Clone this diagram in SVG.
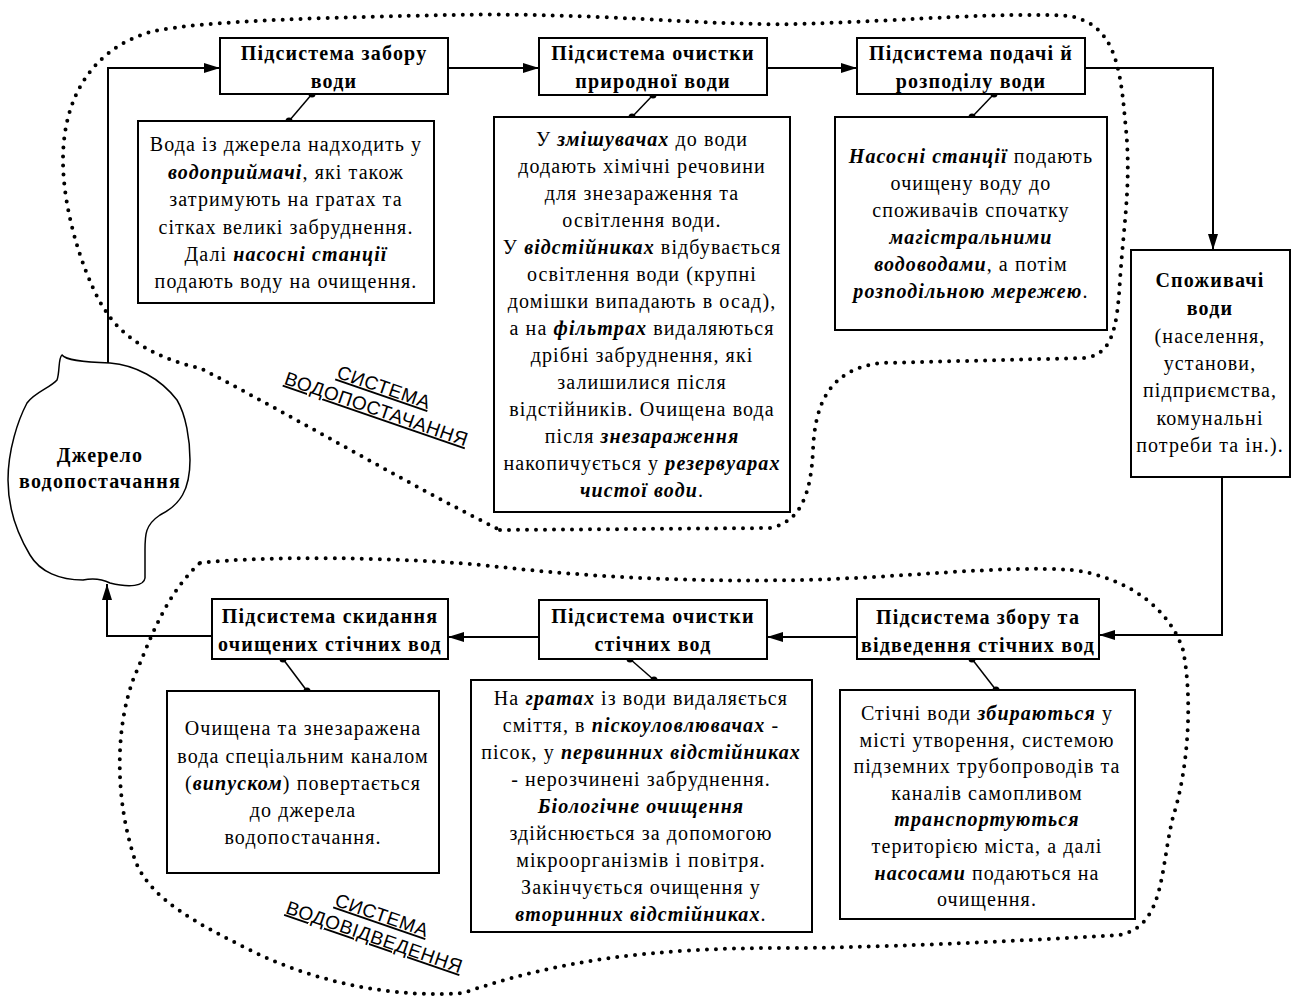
<svg xmlns="http://www.w3.org/2000/svg" width="1300" height="1006" viewBox="0 0 1300 1006">
<style>
.box{fill:#fff;stroke:#000;stroke-width:2}
.t{font-family:"Liberation Serif","Times New Roman",serif;font-size:20px;letter-spacing:1.1px;text-anchor:middle;fill:#000}
.h{font-weight:bold;letter-spacing:1.2px}
.bi{font-weight:bold;font-style:italic}
.b{font-weight:bold}
.ln{stroke:#000;stroke-width:2;fill:none}
.lk{stroke:#000;stroke-width:1.5;fill:none}
.dot{stroke:#000;stroke-width:4;stroke-linecap:round;stroke-dasharray:0 9;fill:none}
.lbl{font-family:"Liberation Sans",Arial,sans-serif;font-size:19px;letter-spacing:0.6px;text-decoration:underline;text-anchor:middle;fill:#000}
</style>
<defs>
<marker id="ah" viewBox="0 0 16 10" refX="16" refY="5" markerWidth="16" markerHeight="10" markerUnits="userSpaceOnUse" orient="auto"><path d="M0,0 L16,5 L0,10 z" fill="#000"/></marker>
</defs>
<rect width="1300" height="1006" fill="#fff"/>

<g id="loops">
<path class="dot" d="M 500 530 L 770 528 C 800 522 811 495 813 450 C 815 405 828 370 880 363 L 1085 358 C 1112 354 1117 330 1120 280 C 1124 220 1132 180 1125 120 C 1120 60 1112 25 1070 16 C 1000 12 920 20 800 24 C 700 26 600 12 450 15 C 350 17 200 20 150 32 C 90 50 63 100 63 160 C 63 220 90 290 107 313 C 125 340 160 360 200 368 C 300 420 400 480 500 530 Z"/>
<path class="dot" d="M 200 563 C 260 556 400 556 500 567 C 600 578 700 582 800 580 C 900 578 1000 565 1073 570 C 1130 578 1170 610 1183 650 C 1193 700 1188 770 1173 817 C 1160 870 1165 925 1120 935 C 1000 942 870 948 783 948 C 650 948 560 960 463 993 C 400 998 320 985 250 950 C 200 925 150 900 135 860 C 115 800 115 730 133 680 C 150 640 165 595 200 563 Z"/>
<g transform="translate(378,400) rotate(19)">
<text class="lbl" x="1.5" y="-7.5">СИСТЕМА</text>
<text class="lbl" x="1.5" y="15.5">ВОДОПОСТАЧАННЯ</text>
</g>
<g transform="translate(376,928) rotate(19)">
<text class="lbl" x="1.5" y="-7.5">СИСТЕМА</text>
<text class="lbl" x="1.5" y="15.5">ВОДОВІДВЕДЕННЯ</text>
</g>
</g>

<g id="connectors">
<path class="ln" d="M 108 363 V 68 H 220" marker-end="url(#ah)"/>
<path class="ln" d="M 448 68 H 539" marker-end="url(#ah)"/>
<path class="ln" d="M 767 68 H 857" marker-end="url(#ah)"/>
<path class="ln" d="M 1085 68 H 1213 V 250" marker-end="url(#ah)"/>
<path class="ln" d="M 1222 477 V 635 H 1099" marker-end="url(#ah)"/>
<path class="ln" d="M 857 637 H 767" marker-end="url(#ah)"/>
<path class="ln" d="M 539 637 H 448" marker-end="url(#ah)"/>
<path class="ln" d="M 212 636 H 107 V 584" marker-end="url(#ah)"/>
<g>
<line class="lk" x1="312" y1="94" x2="289" y2="121"/><circle cx="312" cy="94" r="3.5"/><circle cx="289" cy="121" r="3.5"/>
<line class="lk" x1="653" y1="95" x2="632" y2="117"/><circle cx="653" cy="95" r="3.5"/><circle cx="632" cy="117" r="3.5"/>
<line class="lk" x1="994" y1="94" x2="972" y2="117"/><circle cx="994" cy="94" r="3.5"/><circle cx="972" cy="117" r="3.5"/>
<line class="lk" x1="283" y1="659" x2="307" y2="691"/><circle cx="283" cy="659" r="3.5"/><circle cx="307" cy="691" r="3.5"/>
<line class="lk" x1="630" y1="659" x2="654" y2="680"/><circle cx="630" cy="659" r="3.5"/><circle cx="654" cy="680" r="3.5"/>
<line class="lk" x1="972" y1="659" x2="996" y2="690"/><circle cx="972" cy="659" r="3.5"/><circle cx="996" cy="690" r="3.5"/>
</g>
</g>

<g id="source">
<path class="lk" fill="#fff" d="M 62 355 C 66 360 80 362 110 363 C 135 365 160 378 177 400 C 186 415 190 440 190 460 C 190 490 180 505 160 515 C 145 525 145 535 145 550 L 145 578 C 144 586 130 588 110 583 C 100 578 92 578 83 580 C 60 580 40 572 30 555 C 18 535 8 510 8 480 C 8 450 18 420 27 403 C 35 392 50 388 57 380 C 60 372 58 358 62 355 Z"/>
<text class="t h" x="100" y="462">Джерело</text>
<text class="t h" x="100" y="488">водопостачання</text>
</g>

<g id="n1">
<rect class="box" x="220" y="38" width="228" height="56"/>
<text class="t h" x="334" y="60">Підсистема забору</text>
<text class="t h" x="334" y="88">води</text>
</g>
<g id="n2">
<rect class="box" x="539" y="38" width="228" height="57"/>
<text class="t h" x="653" y="60">Підсистема очистки</text>
<text class="t h" x="653" y="88">природної води</text>
</g>
<g id="n3">
<rect class="box" x="857" y="38" width="228" height="56"/>
<text class="t h" x="971" y="60">Підсистема подачі й</text>
<text class="t h" x="971" y="88">розподілу води</text>
</g>

<g id="d1">
<rect class="box" x="138" y="121" width="296" height="182"/>
<text class="t" x="286" y="151">Вода із джерела надходить у</text>
<text class="t" x="286" y="179"><tspan class="bi">водоприймачі</tspan>, які також</text>
<text class="t" x="286" y="206">затримують на гратах та</text>
<text class="t" x="286" y="234">сітках великі забруднення.</text>
<text class="t" x="286" y="261">Далі <tspan class="bi">насосні станції</tspan></text>
<text class="t" x="286" y="288">подають воду на очищення.</text>
</g>

<g id="d2">
<rect class="box" x="494" y="117" width="296" height="395"/>
<text class="t" x="642" y="146">У <tspan class="bi">змішувачах</tspan> до води</text>
<text class="t" x="642" y="173">додають хімічні речовини</text>
<text class="t" x="642" y="200">для знезараження та</text>
<text class="t" x="642" y="227">освітлення води.</text>
<text class="t" x="642" y="254">У <tspan class="bi">відстійниках</tspan> відбувається</text>
<text class="t" x="642" y="281">освітлення води (крупні</text>
<text class="t" x="642" y="308">домішки випадають в осад),</text>
<text class="t" x="642" y="335">а на <tspan class="bi">фільтрах</tspan> видаляються</text>
<text class="t" x="642" y="362">дрібні забруднення, які</text>
<text class="t" x="642" y="389">залишилися після</text>
<text class="t" x="642" y="416">відстійників. Очищена вода</text>
<text class="t" x="642" y="443">після <tspan class="bi">знезараження</tspan></text>
<text class="t" x="642" y="470">накопичується у <tspan class="bi">резервуарах</tspan></text>
<text class="t" x="642" y="497"><tspan class="bi">чистої води</tspan>.</text>
</g>

<g id="d3">
<rect class="box" x="835" y="117" width="272" height="213"/>
<text class="t" x="971" y="163"><tspan class="bi">Насосні станції</tspan> подають</text>
<text class="t" x="971" y="190">очищену воду до</text>
<text class="t" x="971" y="217">споживачів спочатку</text>
<text class="t" x="971" y="244"><tspan class="bi">магістральними</tspan></text>
<text class="t" x="971" y="271"><tspan class="bi">водоводами</tspan>, а потім</text>
<text class="t" x="971" y="298"><tspan class="bi">розподільною мережею</tspan>.</text>
</g>

<g id="consumers">
<rect class="box" x="1131" y="250" width="159" height="227"/>
<text class="t h" x="1210" y="287">Споживачі</text>
<text class="t h" x="1210" y="315">води</text>
<text class="t" x="1210" y="343">(населення,</text>
<text class="t" x="1210" y="370">установи,</text>
<text class="t" x="1210" y="397">підприємства,</text>
<text class="t" x="1210" y="425">комунальні</text>
<text class="t" x="1210" y="452">потреби та ін.).</text>
</g>

<g id="n4">
<rect class="box" x="857" y="599" width="242" height="60"/>
<text class="t h" x="978" y="624">Підсистема збору та</text>
<text class="t h" x="978" y="652">відведення стічних вод</text>
</g>
<g id="n5">
<rect class="box" x="539" y="600" width="228" height="59"/>
<text class="t h" x="653" y="623">Підсистема очистки</text>
<text class="t h" x="653" y="651">стічних вод</text>
</g>
<g id="n6">
<rect class="box" x="212" y="599" width="236" height="60"/>
<text class="t h" x="330" y="623">Підсистема скидання</text>
<text class="t h" x="330" y="651">очищених стічних вод</text>
</g>

<g id="d4">
<rect class="box" x="167" y="691" width="272" height="182"/>
<text class="t" x="303" y="735">Очищена та знезаражена</text>
<text class="t" x="303" y="763">вода спеціальним каналом</text>
<text class="t" x="303" y="790">(<tspan class="bi">випуском</tspan>)  повертається</text>
<text class="t" x="303" y="817">до джерела</text>
<text class="t" x="303" y="844">водопостачання.</text>
</g>

<g id="d5">
<rect class="box" x="471" y="680" width="341" height="252"/>
<text class="t" x="641" y="705">На <tspan class="bi">гратах</tspan> із води видаляється</text>
<text class="t" x="641" y="732">сміття, в <tspan class="bi">піскоуловлювачах</tspan> -</text>
<text class="t" x="641" y="759">пісок, у <tspan class="bi">первинних відстійниках</tspan></text>
<text class="t" x="641" y="786">- нерозчинені забруднення.</text>
<text class="t" x="641" y="813"><tspan class="bi">Біологічне очищення</tspan></text>
<text class="t" x="641" y="840">здійснюється за допомогою</text>
<text class="t" x="641" y="867">мікроорганізмів і повітря.</text>
<text class="t" x="641" y="894">Закінчується очищення у</text>
<text class="t" x="641" y="921"><tspan class="bi">вторинних відстійниках</tspan>.</text>
</g>

<g id="d6">
<rect class="box" x="840" y="690" width="295" height="229"/>
<text class="t" x="987" y="720">Стічні води <tspan class="bi">збираються</tspan> у</text>
<text class="t" x="987" y="747">місті утворення, системою</text>
<text class="t" x="987" y="773">підземних трубопроводів та</text>
<text class="t" x="987" y="800">каналів самопливом</text>
<text class="t" x="987" y="826"><tspan class="bi">транспортуються</tspan></text>
<text class="t" x="987" y="853">територією міста, а далі</text>
<text class="t" x="987" y="880"><tspan class="bi">насосами</tspan> подаються на</text>
<text class="t" x="987" y="906">очищення.</text>
</g>
</svg>
